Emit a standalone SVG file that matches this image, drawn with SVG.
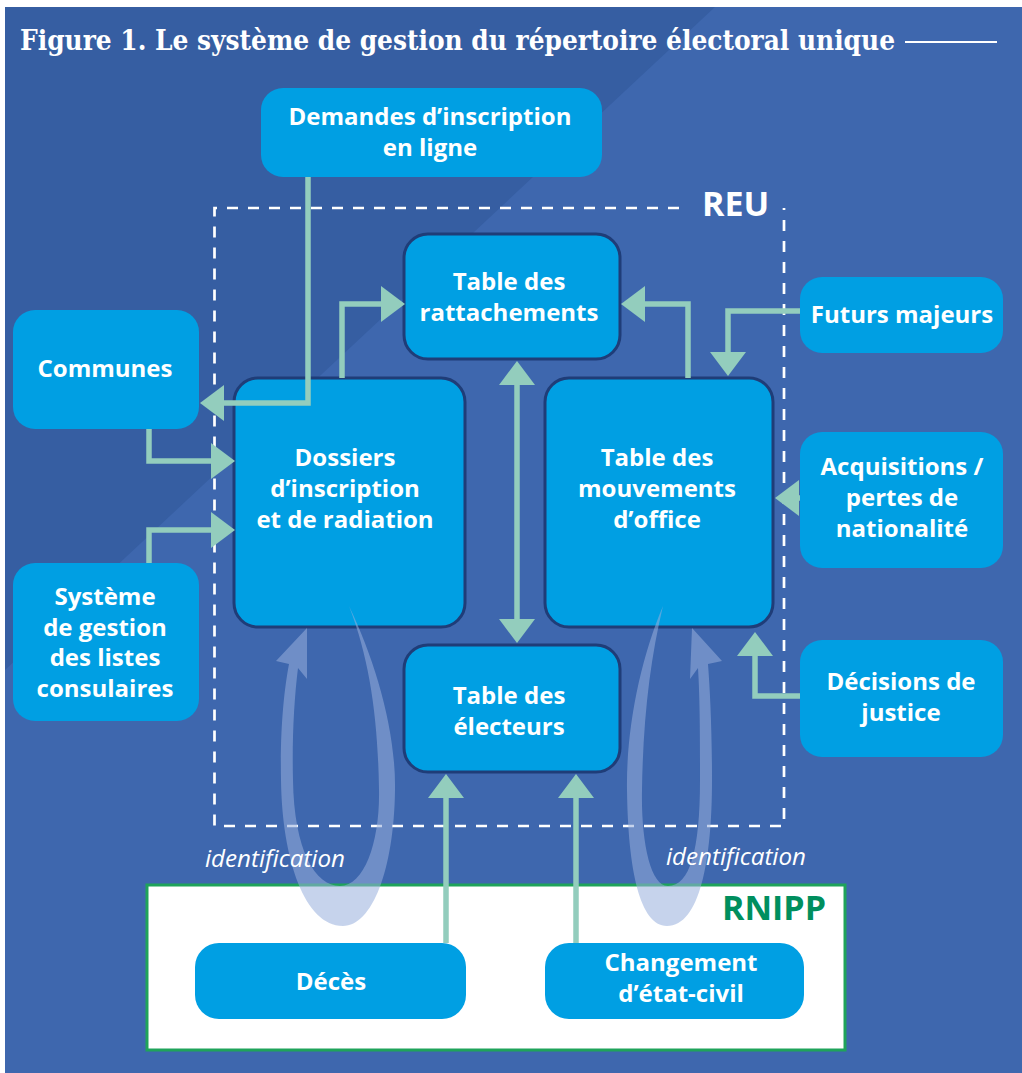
<svg xmlns="http://www.w3.org/2000/svg" width="1022" height="1073" viewBox="0 0 1022 1073">
<defs>
<style>
.bg{fill:#3E67AE}
.bgdark{fill:#365EA2}
.box{fill:#009FE3}
.inner{fill:#009FE3;stroke:#1F3D78;stroke-width:3}
.lbl{font-family:"Open Sans","Liberation Sans",sans-serif;font-weight:700;font-size:24px;fill:#FFFFFF;text-anchor:middle}
.tag{font-family:"Open Sans","Liberation Sans",sans-serif;font-weight:700;font-size:34px}
.idf{font-family:"Open Sans","Liberation Sans",sans-serif;font-style:italic;font-size:23px;fill:#FFFFFF}
.con{fill:none;stroke:#93CDBD;stroke-width:5.5;marker-end:url(#ah)}
.loop{fill:#98AEDC;fill-opacity:0.55}
</style>
<marker id="ah" markerUnits="userSpaceOnUse" markerWidth="24" markerHeight="36" viewBox="0 0 24 36" refX="2" refY="18" orient="auto-start-reverse" overflow="visible">
<path d="M0,0 L24,18 L0,36 Z" fill="#93CDBD"/>
</marker>
</defs>

<rect x="0" y="0" width="1022" height="1073" fill="#FFFFFF"/>
<rect class="bg" x="5" y="7" width="1017" height="1066"/>
<polygon class="bgdark" points="5,7 715,7 5,670"/>

<text x="20" y="50" font-family="'DejaVu Serif Condensed','DejaVu Serif','Liberation Serif',serif" font-weight="700" font-size="28" fill="#FFFFFF" textLength="875" lengthAdjust="spacingAndGlyphs">Figure 1. Le système de gestion du répertoire électoral unique</text>
<line x1="905" y1="42" x2="997" y2="42" stroke="#FFFFFF" stroke-width="2"/>

<g id="reu">
<path d="M679,208 H214.5 V826 H784 V208" fill="none" stroke="#FFFFFF" stroke-width="2.7" stroke-dasharray="11 10"/>
<text class="tag" x="702" y="216" fill="#FFFFFF">REU</text>
</g>

<g id="rnipp">
<rect x="147" y="885" width="698" height="165" fill="#FFFFFF" stroke="#1FA35A" stroke-width="3"/>
<text class="tag" x="826" y="920" fill="#008F5E" text-anchor="end">RNIPP</text>
</g>

<g id="demandes">
<rect class="box" x="261" y="88" width="341" height="89" rx="22"/>
<text class="lbl" x="430" y="125">Demandes d’inscription</text>
<text class="lbl" x="430" y="156">en ligne</text>
</g>

<g id="communes">
<rect class="box" x="13" y="310" width="186" height="119" rx="22"/>
<text class="lbl" x="105" y="377">Communes</text>
</g>

<g id="systeme">
<rect class="box" x="13" y="563" width="186" height="158" rx="22"/>
<text class="lbl" x="105" y="605">Système</text>
<text class="lbl" x="105" y="636">de gestion</text>
<text class="lbl" x="105" y="666">des listes</text>
<text class="lbl" x="105" y="697">consulaires</text>
</g>

<g id="rattachements">
<rect class="inner" x="404" y="234" width="216" height="125" rx="24"/>
<text class="lbl" x="509" y="290">Table des</text>
<text class="lbl" x="509" y="321">rattachements</text>
</g>

<g id="dossiers">
<rect class="inner" x="234" y="378" width="231" height="249" rx="24"/>
<text class="lbl" x="345" y="466">Dossiers</text>
<text class="lbl" x="345" y="497">d’inscription</text>
<text class="lbl" x="345" y="528">et de radiation</text>
</g>

<g id="mouvements">
<rect class="inner" x="545" y="378" width="228" height="249" rx="24"/>
<text class="lbl" x="657" y="466">Table des</text>
<text class="lbl" x="657" y="497">mouvements</text>
<text class="lbl" x="657" y="528">d’office</text>
</g>

<g id="electeurs">
<rect class="inner" x="404" y="645" width="216" height="127" rx="24"/>
<text class="lbl" x="509" y="704">Table des</text>
<text class="lbl" x="509" y="735">électeurs</text>
</g>

<g id="futurs">
<rect class="box" x="800" y="277" width="203" height="76" rx="22"/>
<text class="lbl" x="902" y="323">Futurs majeurs</text>
</g>

<g id="acquisitions">
<rect class="box" x="800" y="432" width="203" height="136" rx="22"/>
<text class="lbl" x="902" y="475">Acquisitions /</text>
<text class="lbl" x="902" y="506">pertes de</text>
<text class="lbl" x="902" y="537">nationalité</text>
</g>

<g id="decisions">
<rect class="box" x="800" y="640" width="203" height="117" rx="22"/>
<text class="lbl" x="901" y="690">Décisions de</text>
<text class="lbl" x="901" y="721">justice</text>
</g>

<g id="deces">
<rect class="box" x="195" y="943" width="271" height="76" rx="24"/>
<text class="lbl" x="331" y="990">Décès</text>
</g>

<g id="changement">
<rect class="box" x="545" y="943" width="259" height="76" rx="24"/>
<text class="lbl" x="681" y="971">Changement</text>
<text class="lbl" x="681" y="1002">d’état-civil</text>
</g>

<g id="connectors">
<path class="con" d="M308,177 V403 H222"/>
<path class="con" d="M149,429 V461 H213"/>
<path class="con" d="M149,563 V530 H213"/>
<path class="con" d="M342,378 V304 H383"/>
<path class="con" d="M688,378 V304 H643"/>
<path class="con" d="M800,311 H728 V354"/>
<path class="con" d="M800,498 H797"/>
<path class="con" d="M800,696 H755 V654"/>
<path class="con" d="M517,383 V621" marker-start="url(#ah)"/>
<path class="con" d="M446,943 V796"/>
<path class="con" d="M576,943 V796"/>
</g>

<g id="identification-loops">
<path class="loop" d="M349,606 C375,660 396,730 395,790 C394,870 372,926 343,926 C305,926 282,860 281,780 C280,730 284,690 289,664 L276,661 L307,628 L307,679 L298,668 C294,700 292,740 293,780 C294,850 315,886 340,886 C365,886 380,840 379,790 C378,720 370,660 349,606 Z"/>
<path class="loop" d="M663,606 C640,660 626,730 627,790 C628,870 640,926 667,926 C700,926 712,860 712,780 C712,730 710,690 708,664 L722,661 L692,628 L690,679 L698,668 C700,700 700,740 700,780 C700,850 690,886 668,886 C650,886 641,840 642,790 C643,720 650,660 663,606 Z"/>
<text class="idf" x="205" y="867" textLength="140" lengthAdjust="spacingAndGlyphs">identification</text>
<text class="idf" x="666" y="865" textLength="140" lengthAdjust="spacingAndGlyphs">identification</text>
</g>
</svg>
